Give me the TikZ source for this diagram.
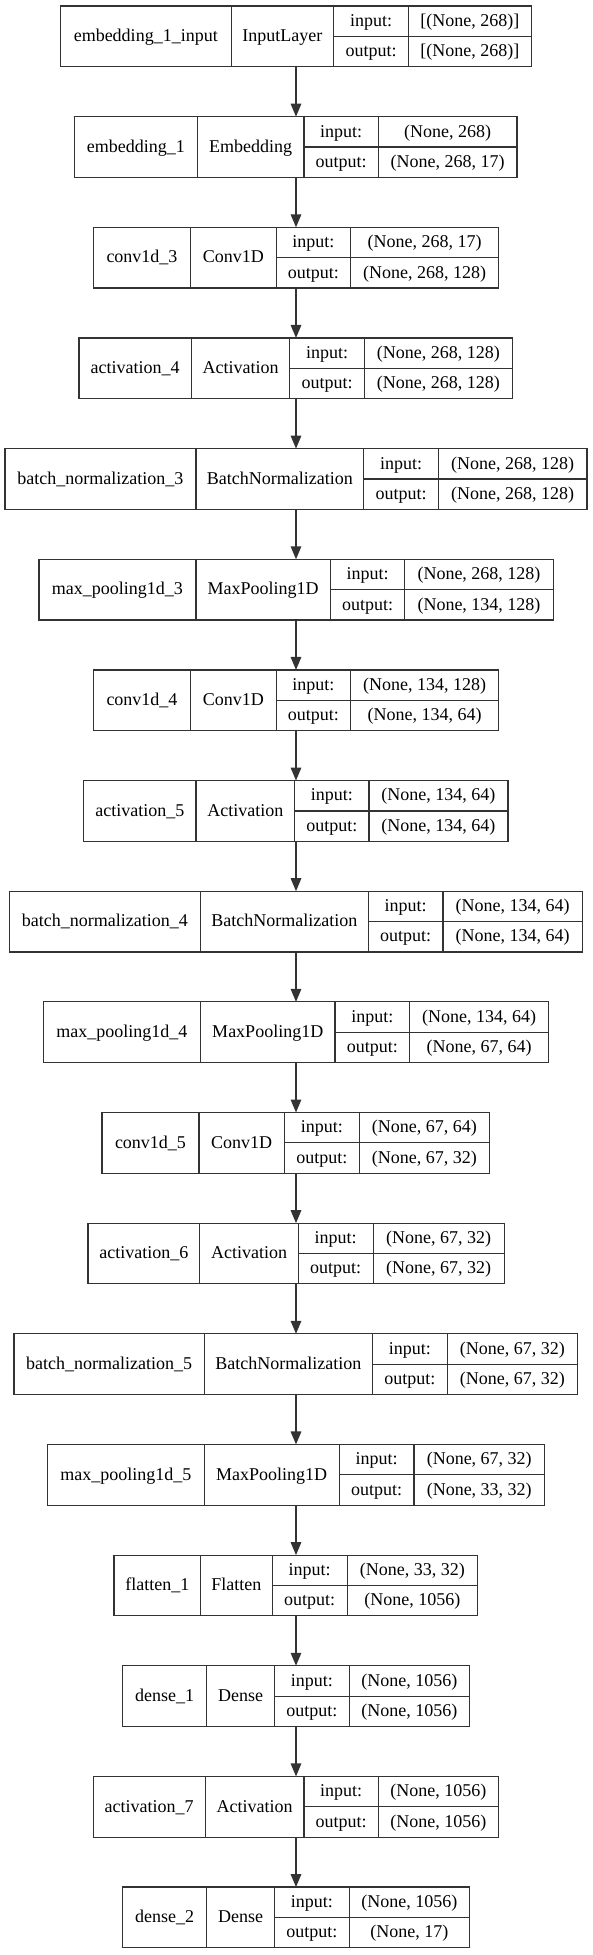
\documentclass[tikz,border=0pt]{standalone}
\usepackage{fontspec}
\setmainfont{Liberation Serif}
\usetikzlibrary{arrows.meta}
\tikzset{
  frame/.style={draw=none, inner sep=0pt, outer sep=0pt, minimum height=60.7pt},
  bigcell/.style={inner sep=0pt, outer sep=0pt,
    minimum height=60.7pt, text height=14pt, text depth=3.5pt},
  smallcell/.style={inner sep=0pt, outer sep=0pt,
    minimum height=30.35pt, text height=14pt, text depth=3.5pt},
  txt/.style={inner sep=0pt, outer sep=0pt, text height=14pt, text depth=3.5pt},
  rule/.style={draw=black!80, line width=1.2pt},
  arr/.style={draw=black!80, line width=1.6pt, -{Triangle[length=13pt,width=10.5pt]}}
}
\newcommand\lyr[9]{%
\pgfmathsetmacro\qyt{6+(#2-1)*110.65}%
\pgfmathsetmacro\qyc{\qyt+30.35}%
\pgfmathsetmacro\qyu{\qyt+15.175}%
\pgfmathsetmacro\qyl{\qyt+45.525}%
\pgfmathsetmacro\qwa{#4-#3}\pgfmathsetmacro\qxa{(#3+#4)/2}%
\pgfmathsetmacro\qwb{#5-#4}\pgfmathsetmacro\qxb{(#4+#5)/2}%
\pgfmathsetmacro\qwc{#6-#5}\pgfmathsetmacro\qxc{(#5+#6)/2}%
\pgfmathsetmacro\qwd{#7-#6}\pgfmathsetmacro\qxd{(#6+#7)/2}%
\pgfmathsetmacro\qwall{#7-#3}\pgfmathsetmacro\qxall{(#3+#7)/2}%
\node[frame, minimum width=\qwall pt] (#1) at (\qxall,\qyc) {};
\node[bigcell, minimum width=\qwa pt] (#1-n) at (\qxa,\qyc) {#8};
\node[bigcell, minimum width=\qwb pt] (#1-t) at (\qxb,\qyc) {#9};
\node[smallcell, minimum width=\qwc pt] (#1-il) at (\qxc,\qyu) {input:};
\node[smallcell, minimum width=\qwc pt] (#1-ol) at (\qxc,\qyl) {output:};
\node[smallcell, minimum width=\qwd pt] (#1-iv) at (\qxd,\qyu) {};
\node[smallcell, minimum width=\qwd pt] (#1-ov) at (\qxd,\qyl) {};
\draw[rule] (#1.north west) rectangle (#1.south east)
  (#1-t.north west) -- (#1-t.south west)
  (#1-t.north east) -- (#1-t.south east)
  (#1-iv.north west) -- (#1-ov.south west)
  (#1-il.south west) -- (#1-iv.south east);
}
\newcommand\io[3]{%
\node[txt] (#1-ivt) at (#1-iv.center) {#2};
\node[txt] (#1-ovt) at (#1-ov.center) {#3};
}
\begin{document}
\begin{tikzpicture}[x=1pt,y=-1pt,font=\fontsize{18}{20}\selectfont]
\useasboundingbox (0,0) rectangle (592,1955);
\coordinate (ax) at (296,0);
\lyr{L1}{1}{60.4}{231.1}{333.8}{408.6}{531.3}{embedding\_1\_input}{InputLayer}
\io{L1}{[(None, 268)]}{[(None, 268)]}
\lyr{L2}{2}{74.8}{197.1}{304.0}{378.4}{517.0}{embedding\_1}{Embedding}
\io{L2}{(None, 268)}{(None, 268, 17)}
\lyr{L3}{3}{93.3}{190.7}{276.1}{350.8}{498.5}{conv1d\_3}{Conv1D}
\io{L3}{(None, 268, 17)}{(None, 268, 128)}
\lyr{L4}{4}{78.9}{191.5}{289.7}{364.4}{512.5}{activation\_4}{Activation}
\io{L4}{(None, 268, 128)}{(None, 268, 128)}
\lyr{L5}{5}{4.9}{196.0}{363.7}{438.4}{586.9}{batch\_normalization\_3}{BatchNormalization}
\io{L5}{(None, 268, 128)}{(None, 268, 128)}
\lyr{L6}{6}{38.9}{196.0}{330.4}{404.8}{553.2}{max\_pooling1d\_3}{MaxPooling1D}
\io{L6}{(None, 268, 128)}{(None, 134, 128)}
\lyr{L7}{7}{93.3}{190.7}{276.1}{350.8}{498.5}{conv1d\_4}{Conv1D}
\io{L7}{(None, 134, 128)}{(None, 134, 64)}
\lyr{L8}{8}{83.8}{196.0}{294.6}{369.0}{507.9}{activation\_5}{Activation}
\io{L8}{(None, 134, 64)}{(None, 134, 64)}
\lyr{L9}{9}{9.4}{200.5}{368.2}{443.0}{582.3}{batch\_normalization\_4}{BatchNormalization}
\io{L9}{(None, 134, 64)}{(None, 134, 64)}
\lyr{L10}{10}{43.4}{200.5}{335.0}{409.7}{548.7}{max\_pooling1d\_4}{MaxPooling1D}
\io{L10}{(None, 134, 64)}{(None, 67, 64)}
\lyr{L11}{11}{102.0}{199.0}{284.4}{359.1}{489.8}{conv1d\_5}{Conv1D}
\io{L11}{(None, 67, 64)}{(None, 67, 32)}
\lyr{L12}{12}{88.0}{199.8}{298.3}{373.1}{504.2}{activation\_6}{Activation}
\io{L12}{(None, 67, 32)}{(None, 67, 32)}
\lyr{L13}{13}{14.0}{204.3}{372.4}{447.1}{577.8}{batch\_normalization\_5}{BatchNormalization}
\io{L13}{(None, 67, 32)}{(None, 67, 32)}
\lyr{L14}{14}{47.2}{204.3}{339.1}{413.9}{544.6}{max\_pooling1d\_5}{MaxPooling1D}
\io{L14}{(None, 67, 32)}{(None, 33, 32)}
\lyr{L15}{15}{114.0}{200.5}{272.3}{347.1}{477.7}{flatten\_1}{Flatten}
\io{L15}{(None, 33, 32)}{(None, 1056)}
\lyr{L16}{16}{122.7}{206.6}{274.5}{349.3}{469.4}{dense\_1}{Dense}
\io{L16}{(None, 1056)}{(None, 1056)}
\lyr{L17}{17}{93.3}{205.1}{304.0}{378.4}{498.5}{activation\_7}{Activation}
\io{L17}{(None, 1056)}{(None, 1056)}
\lyr{L18}{18}{122.7}{206.6}{274.5}{349.3}{469.4}{dense\_2}{Dense}
\io{L18}{(None, 1056)}{(None, 17)}
\foreach \a/\b in {1/2,2/3,3/4,4/5,5/6,6/7,7/8,8/9,9/10,10/11,11/12,12/13,13/14,14/15,15/16,16/17,17/18}
  \draw[arr] (L\a.south -| ax) -- (L\b.north -| ax);
\end{tikzpicture}
\end{document}
